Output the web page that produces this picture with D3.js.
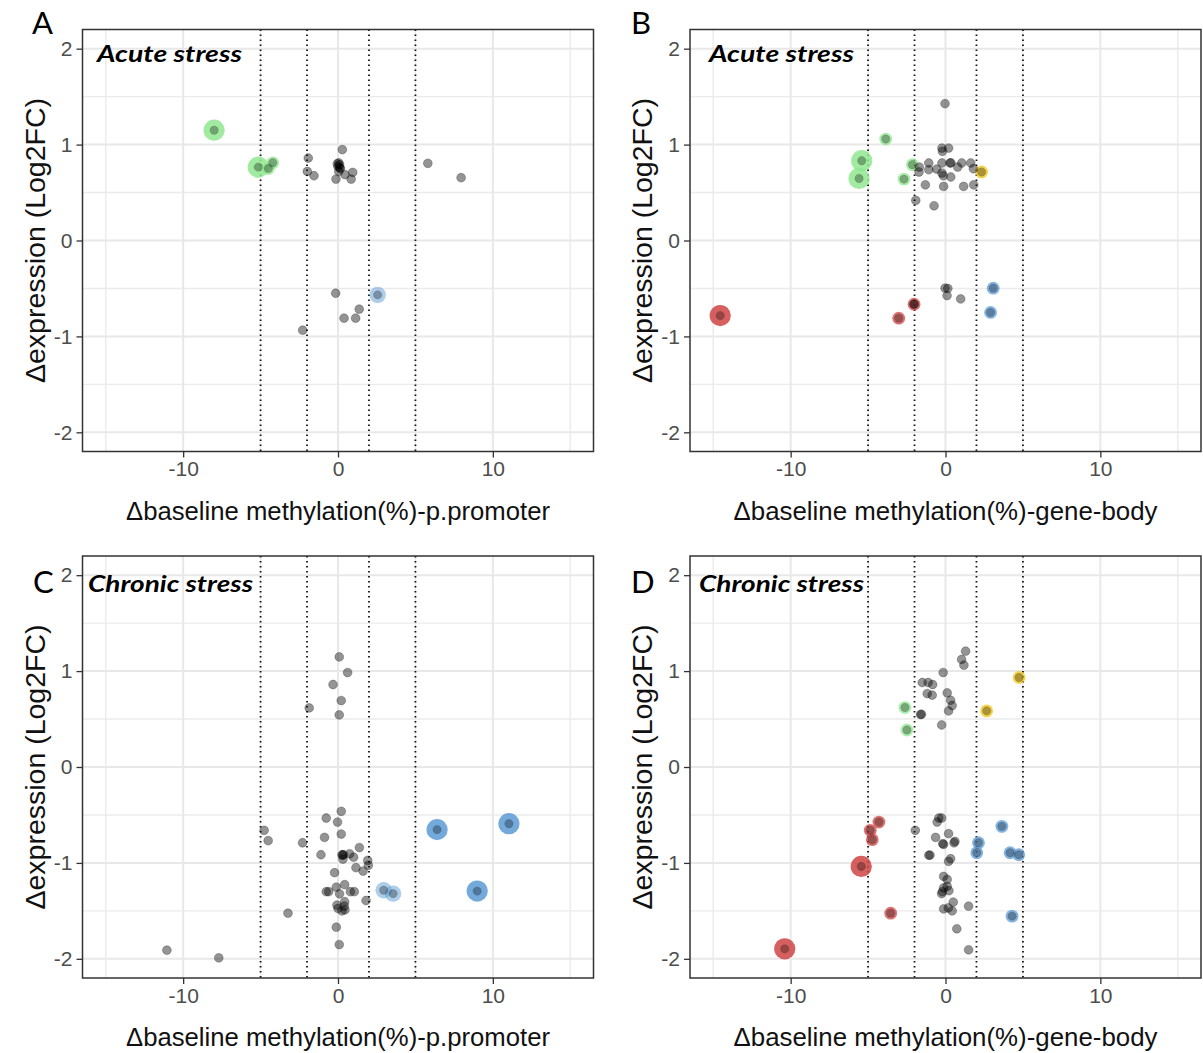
<!DOCTYPE html>
<html>
<head>
<meta charset="utf-8">
<script src="https://cdn.jsdelivr.net/npm/d3@7"></script>
<style>
body { margin: 0; background: #fff; }
</style>
</head>
<body>
<div id="vis"></div>
<script>
// ---- data: [x, y] plain genes, [x, y, group, sizeClass] highlighted genes ----
var acutePromoter = [[-1.92,0.86],[-1.98,0.72],[-1.55,0.675],[0.28,0.947],[-0.05,0.80],[0.1,0.79],
    [0.0,0.77],[0.15,0.75],[0.05,0.72],[0.05,0.81],[0.12,0.76],[-0.13,0.64],[0.45,0.686],[0.95,0.71],
    [0.85,0.64],[5.8,0.805],[7.95,0.655],[-0.15,-0.55],[1.37,-0.716],[0.39,-0.81],[1.14,-0.81],[-2.28,-0.935]];
var acutePromoterHits = [[-8.0,1.15,"green",3],[-5.15,0.765,"green",3],[-4.5,0.75,"green",1],
    [-4.21,0.81,"green",1],[2.56,-0.567,"blue",2]];

var acuteBody = [[-0.03,1.427],[-0.23,0.964],[0.2,0.964],[-0.2,0.93],[-1.69,0.766],[-1.71,0.714],
    [-1.08,0.808],[-1.08,0.738],[-0.57,0.745],[-0.23,0.808],[-0.23,0.703],[0.29,0.808],[0.34,0.662],
    [-0.14,0.675],[0.79,0.766],[1.05,0.808],[1.63,0.808],[1.8,0.748],[0.35,0.81],[-1.3,0.58],
    [-0.12,0.564],[1.17,0.564],[1.82,0.58],[-1.92,0.418],[-0.74,0.362],[-0.03,-0.497],[0.15,-0.5],
    [0.1,-0.574],[0.98,-0.609],[-2.03,-0.664]];
var acuteBodyHits = [[-5.41,0.832,"green",3],[-5.58,0.647,"green",3],[-3.86,1.058,"green",1],
    [-2.14,0.79,"green",1],[-2.68,0.64,"green",1],[2.33,0.714,"yellow",1],[-14.55,-0.783,"red",3],
    [-2.03,-0.664,"red",1],[-3.02,-0.81,"red",1],[3.08,-0.497,"blue",1],[2.91,-0.75,"blue",1]];

var chronicPromoter = [[0.08,1.148],[0.62,0.985],[-0.32,0.86],[0.21,0.693],[-1.86,0.616],[0.08,0.543],
    [0.21,-0.462],[-0.76,-0.532],[-0.03,-0.574],[-4.77,-0.66],[-4.51,-0.768],[0.21,-0.699],[-0.87,-0.734],
    [-2.29,-0.79],[-1.1,-0.915],[0.26,-0.915],[0.36,-0.915],[0.3,-0.92],[0.75,-0.905],[1.01,-0.94],
    [1.38,-0.84],[0.32,-0.96],[1.92,-0.974],[1.96,-1.025],[1.16,-1.05],[1.62,-1.085],[-0.22,-1.102],
    [-0.76,-1.3],[-0.6,-1.3],[-0.11,-1.253],[0.43,-1.227],[0.1,-1.322],[0.8,-1.3],[1.05,-1.3],
    [1.81,-1.392],[0,-1.475],[0.41,-1.45],[0.43,-1.405],[0.26,-1.5],[-0.07,-1.44],[0.45,-1.49],
    [-3.23,-1.524],[-0.11,-1.67],[0.08,-1.851],[-11.05,-1.91],[-7.7,-1.99]];
var chronicPromoterHits = [[2.95,-1.285,"blue",2],[3.56,-1.32,"blue",2],[6.4,-0.653,"blue",3],
    [11.04,-0.591,"blue",3],[8.99,-1.294,"blue",3]];

var chronicBody = [[1.3,1.208],[1.04,1.121],[1.19,1.062],[-0.15,0.985],[-1.5,0.881],[-1.12,0.881],
    [-0.83,0.86],[-1.18,0.766],[-0.86,0.749],[0.11,0.773],[0.33,0.696],[0.43,0.641],[0.2,0.585],
    [-1.61,0.547],[-1.55,0.55],[-0.25,0.438],[-0.43,-0.532],[-0.25,-0.532],[-0.54,-0.574],[-1.95,-0.66],
    [-0.64,-0.734],[0.2,-0.695],[-0.12,-0.807],[-0.18,-0.8],[0.61,-0.776],[0.55,-0.79],[-1.0,-0.918],
    [-1.08,-0.92],[0.33,-0.956],[0.2,-0.984],[-0.12,-1.141],[0.11,-1.172],[0.11,-1.245],[-0.12,-1.26],
    [-0.25,-1.32],[0.22,-1.29],[-0.2,-1.3],[0.5,-1.409],[-0.12,-1.48],[0.18,-1.47],[0.43,-1.5],
    [1.49,-1.451],[0.73,-1.687],[1.49,-1.906]];
var chronicBodyHits = [[-2.62,0.62,"green",1],[-2.49,0.386,"green",1],[4.75,0.933,"yellow",1],
    [2.66,0.585,"yellow",1],[-4.3,-0.574,"red",1],[-4.86,-0.66,"red",1],[-4.73,-0.758,"red",1],
    [-5.44,-1.037,"red",3],[-3.54,-1.524,"red",1],[-10.38,-1.896,"red",3],[2.13,-0.789,"blue",1],
    [2.02,-0.894,"blue",1],[3.64,-0.619,"blue",1],[4.17,-0.894,"blue",1],[4.73,-0.915,"blue",1],
    [4.3,-1.555,"blue",1]];

// axis breaks and cut-offs
var xTicks = [-10, 0, 10];
var yTicks = [-2, -1, 0, 1, 2];
var xMinor = [-15, -5, 5, 15];
var yMinor = [-1.5, -0.5, 0.5, 1.5];
var cutoffs = [-5, -2, 2, 5];

var panelLetters = ["A", "B", "C", "D"];
var stressLabels = ["Acute stress", "Acute stress", "Chronic stress", "Chronic stress"];
var xTitles = ["\u0394baseline methylation(%)-p.promoter", "\u0394baseline methylation(%)-gene-body",
    "\u0394baseline methylation(%)-p.promoter", "\u0394baseline methylation(%)-gene-body"];
var yTitle = "\u0394expression (Log2FC)";

var panels = [
    {plain: acutePromoter, hits: acutePromoterHits},
    {plain: acuteBody, hits: acuteBodyHits},
    {plain: chronicPromoter, hits: chronicPromoterHits},
    {plain: chronicBody, hits: chronicBodyHits}
];

// ---- layout ----
var width = 1203, height = 1053;
var panelW = 511, panelH = 422;
var lefts = [82.5, 690, 82.5, 690];
var tops = [29.5, 29.5, 556, 556];

var colors = {green: "#8fe88f", blue: "#5b9bd5", red: "#cf4444", yellow: "#f2c514"};
var haloR = {1: 6.4, 2: 8.2, 3: 10.6};
var haloOpacity = {1: 0.75, 2: 0.5, 3: 0.85};

var svg = d3.select("#vis")
    .append("svg")
    .attr("width", width)
    .attr("height", height);

var x = d3.scaleLinear().domain([-16.5, 16.5]).range([0, panelW]);
var y = d3.scaleLinear().domain([-2.2, 2.2]).range([panelH, 0]);

panels.forEach(function(p, i) {
    var g = svg.append("g")
        .attr("transform", "translate(" + lefts[i] + "," + tops[i] + ")");

    // minor grid
    g.selectAll(".vminor").data(xMinor).enter().append("line")
        .attr("x1", d => x(d)).attr("x2", d => x(d))
        .attr("y1", 0).attr("y2", panelH)
        .attr("stroke", "#ebebeb").attr("stroke-width", 1.4);
    g.selectAll(".hminor").data(yMinor).enter().append("line")
        .attr("y1", d => y(d)).attr("y2", d => y(d))
        .attr("x1", 0).attr("x2", panelW)
        .attr("stroke", "#ebebeb").attr("stroke-width", 1.4);
    // major grid
    g.selectAll(".vmajor").data(xTicks).enter().append("line")
        .attr("x1", d => x(d)).attr("x2", d => x(d))
        .attr("y1", 0).attr("y2", panelH)
        .attr("stroke", "#e8e8e8").attr("stroke-width", 2);
    g.selectAll(".hmajor").data(yTicks).enter().append("line")
        .attr("y1", d => y(d)).attr("y2", d => y(d))
        .attr("x1", 0).attr("x2", panelW)
        .attr("stroke", "#e8e8e8").attr("stroke-width", 2);

    // dotted cut-off lines
    g.selectAll(".cut").data(cutoffs).enter().append("line")
        .attr("x1", d => x(d)).attr("x2", d => x(d))
        .attr("y1", 0).attr("y2", panelH)
        .attr("stroke", "#111").attr("stroke-width", 1.8)
        .attr("stroke-dasharray", "1.6,3.4");

    // coloured halos, then the grey dot of every gene
    g.selectAll(".halo").data(p.hits).enter().append("circle")
        .attr("cx", d => x(d[0])).attr("cy", d => y(d[1]))
        .attr("r", d => haloR[d[3]])
        .attr("fill", d => colors[d[2]])
        .attr("fill-opacity", d => haloOpacity[d[3]]);

    g.selectAll(".dot").data(p.plain).enter().append("circle")
        .attr("cx", d => x(d[0])).attr("cy", d => y(d[1]))
        .attr("r", 4.4)
        .attr("fill", "#000").attr("fill-opacity", 0.42)
        .attr("stroke", "#000").attr("stroke-opacity", 0.25).attr("stroke-width", 1);

    g.selectAll(".hitdot").data(p.hits).enter().append("circle")
        .attr("cx", d => x(d[0])).attr("cy", d => y(d[1]))
        .attr("r", 4.2)
        .attr("fill", "#000").attr("fill-opacity", 0.3)
        .attr("stroke", "#000").attr("stroke-opacity", 0.12).attr("stroke-width", 1);

    // border
    g.append("rect")
        .attr("width", panelW).attr("height", panelH)
        .attr("fill", "none").attr("stroke", "#333").attr("stroke-width", 1.5);

    // axes
    var xAxis = d3.axisBottom(x).tickValues(xTicks).tickSize(6).tickPadding(4)
        .tickFormat(d => String(d));
    var yAxis = d3.axisLeft(y).tickValues(yTicks).tickSize(6).tickPadding(4)
        .tickFormat(d => String(d));

    var gx = g.append("g").attr("transform", "translate(0," + panelH + ")").call(xAxis);
    var gy = g.append("g").call(yAxis);
    [gx, gy].forEach(function(a) {
        a.select(".domain").remove();
        a.selectAll(".tick line").attr("stroke", "#333").attr("stroke-width", 1.3);
        a.selectAll(".tick text")
            .attr("fill", "#4d4d4d")
            .style("font-family", '"Liberation Sans", Arial, sans-serif')
            .style("font-size", "21px");
    });

    // axis titles
    g.append("text")
        .attr("x", panelW / 2)
        .attr("y", panelH + 68)
        .attr("text-anchor", "middle")
        .attr("textLength", 424)
        .attr("lengthAdjust", "spacingAndGlyphs")
        .style("font-family", '"Liberation Sans", Arial, sans-serif')
        .style("font-size", "26px")
        .attr("fill", "#111")
        .text(xTitles[i]);

    g.append("text")
        .attr("transform", "translate(-38," + (panelH / 2) + ") rotate(-90)")
        .attr("text-anchor", "middle")
        .attr("textLength", 285)
        .attr("lengthAdjust", "spacingAndGlyphs")
        .style("font-family", '"Liberation Sans", Arial, sans-serif')
        .style("font-size", "27px")
        .attr("fill", "#111")
        .text(yTitle);

    // stress label inside the panel
    var isChronic = i >= 2;
    g.append("text")
        .attr("x", i === 2 ? 5.5 : (i === 3 ? 9 : (i === 0 ? 14.5 : 19)))
        .attr("y", isChronic ? 36 : 32.5)
        .attr("textLength", isChronic ? 165 : 145)
        .attr("lengthAdjust", "spacingAndGlyphs")
        .style("font-family", 'Lato, "Open Sans", sans-serif')
        .style("font-weight", "bold")
        .style("font-style", "italic")
        .style("font-size", "23px")
        .attr("fill", "#000")
        .text(stressLabels[i]);
});

// panel letters
var letterPos = [[32, 34], [631, 34], [33, 593], [631, 593]];
svg.selectAll(".letter").data(panelLetters).enter().append("text")
    .attr("x", (d, i) => letterPos[i][0])
    .attr("y", (d, i) => letterPos[i][1])
    .style("font-family", 'Lato, "Open Sans", sans-serif')
    .style("font-size", "31px")
    .attr("fill", "#000")
    .text(d => d);
</script>
</body>
</html>
